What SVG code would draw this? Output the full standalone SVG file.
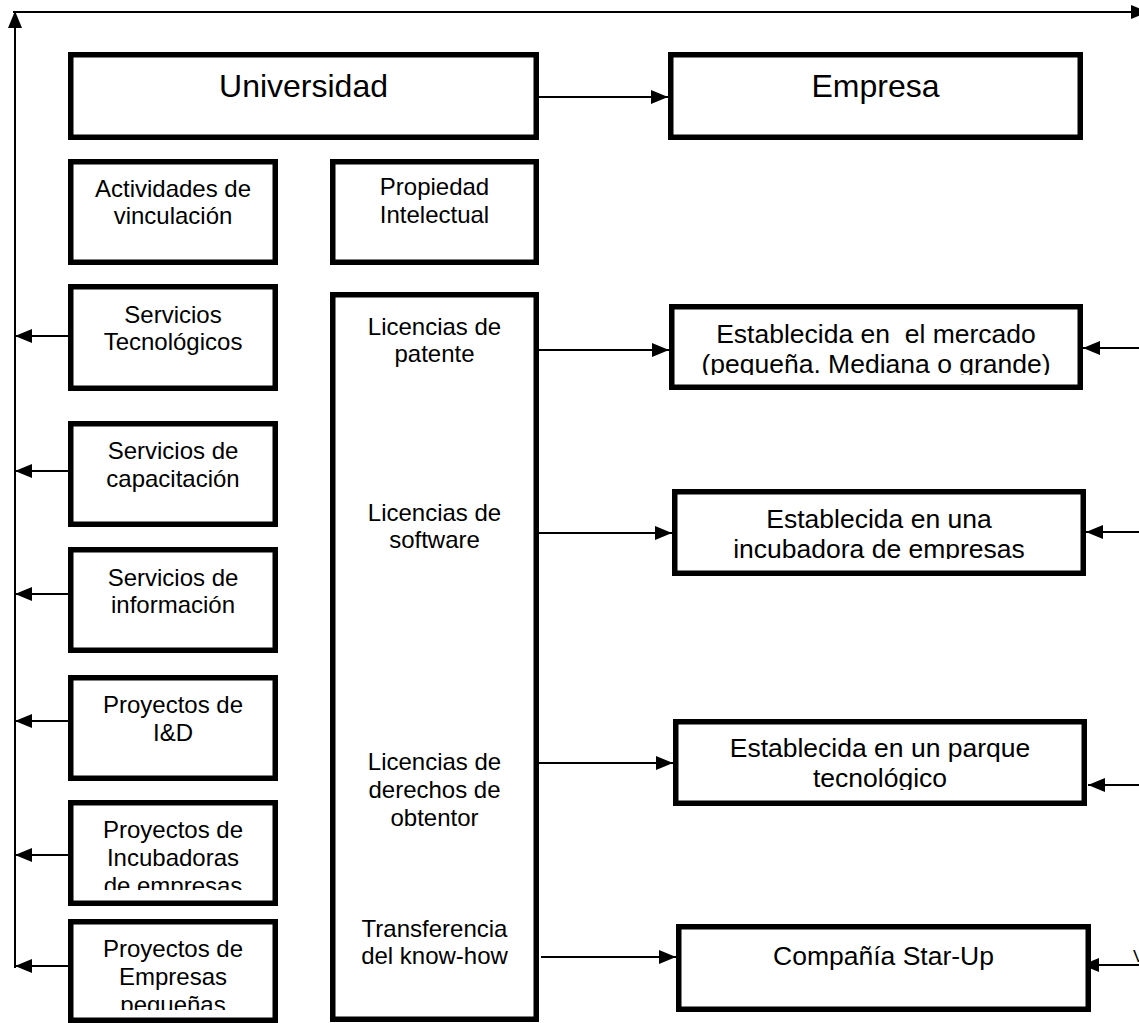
<svg xmlns="http://www.w3.org/2000/svg" width="1139" height="1023" viewBox="0 0 1139 1023">
  <style>
    .box { fill: #fff; stroke: #000; stroke-width: 5.5; }
    .lbl { font-family: "Liberation Sans", Arial, sans-serif; font-size: 24px; fill: #000; text-anchor: middle; }
    .big { font-size: 32px; }
    .mid { font-size: 26.5px; }
    .wire { fill: none; stroke: #000; stroke-width: 2; marker-end: url(#arrow); }
  </style>
  <defs>
    <marker id="arrow" viewBox="0 0 17 14" refX="17" refY="7" markerWidth="17" markerHeight="14" markerUnits="userSpaceOnUse" orient="auto">
      <path d="M0,0 L17,7 L0,14 z" fill="#000"/>
    </marker>
    <clipPath id="clipIncub"><rect x="68" y="800" width="210" height="90"/></clipPath>
    <clipPath id="clipPeq"><rect x="68" y="919" width="210" height="91"/></clipPath>
    <clipPath id="clipMercado"><rect x="669" y="304" width="414" height="71"/></clipPath>
    <clipPath id="clipIncubadora"><rect x="672" y="489" width="414" height="70"/></clipPath>
    <clipPath id="clipParque"><rect x="673" y="719" width="414" height="71"/></clipPath>
  </defs>

  <!-- connectors -->
  <g id="connectors">
    <!-- frame: left riser and top return -->
    <line class="wire" x1="15" y1="968" x2="15" y2="11"/>
    <line class="wire" x1="13" y1="12" x2="1148" y2="12"/>
    <!-- Universidad to Empresa -->
    <line class="wire" x1="539" y1="97" x2="668" y2="97"/>
    <!-- left column outputs -->
    <line class="wire" x1="68" y1="336" x2="15" y2="336"/>
    <line class="wire" x1="68" y1="471" x2="15" y2="471"/>
    <line class="wire" x1="68" y1="594" x2="15" y2="594"/>
    <line class="wire" x1="68" y1="721" x2="15" y2="721"/>
    <line class="wire" x1="68" y1="855" x2="15" y2="855"/>
    <line class="wire" x1="68" y1="966" x2="15" y2="966"/>
    <!-- licences to company types -->
    <line class="wire" x1="539" y1="350" x2="669" y2="350"/>
    <line class="wire" x1="539" y1="533" x2="672" y2="533"/>
    <line class="wire" x1="539" y1="763" x2="673" y2="763"/>
    <line class="wire" x1="541" y1="957" x2="676" y2="957"/>
    <!-- inputs from the right edge -->
    <line class="wire" x1="1145" y1="348" x2="1083" y2="348"/>
    <line class="wire" x1="1145" y1="532" x2="1086" y2="532"/>
    <line class="wire" x1="1145" y1="785" x2="1088" y2="785"/>
    <line class="wire" x1="1145" y1="965" x2="1082" y2="965"/>
  </g>

  <g id="universidad">
    <rect class="box" x="70.75" y="54.75" width="465.5" height="82.5"/>
    <text class="lbl big" x="303.5" y="97">Universidad</text>
  </g>
  <g id="empresa">
    <rect class="box" x="670.75" y="54.75" width="409.5" height="82.5"/>
    <text class="lbl big" x="875.5" y="97">Empresa</text>
  </g>

  <g id="actividades">
    <rect class="box" x="70.75" y="161.75" width="204.5" height="100.5"/>
    <text class="lbl" x="173" y="197">Actividades de</text>
    <text class="lbl" x="173" y="224">vinculación</text>
  </g>
  <g id="servicios-tecnologicos">
    <rect class="box" x="70.75" y="286.75" width="204.5" height="101.5"/>
    <text class="lbl" x="173" y="323">Servicios</text>
    <text class="lbl" x="173" y="350">Tecnológicos</text>
  </g>
  <g id="servicios-capacitacion">
    <rect class="box" x="70.75" y="423.75" width="204.5" height="100.5"/>
    <text class="lbl" x="173" y="459">Servicios de</text>
    <text class="lbl" x="173" y="487">capacitación</text>
  </g>
  <g id="servicios-informacion">
    <rect class="box" x="70.75" y="549.75" width="204.5" height="100.5"/>
    <text class="lbl" x="173" y="586">Servicios de</text>
    <text class="lbl" x="173" y="613">información</text>
  </g>
  <g id="proyectos-id">
    <rect class="box" x="70.75" y="677.75" width="204.5" height="100.5"/>
    <text class="lbl" x="173" y="713">Proyectos de</text>
    <text class="lbl" x="173" y="741">I&amp;D</text>
  </g>
  <g id="proyectos-incubadoras">
    <rect class="box" x="70.75" y="802.75" width="204.5" height="100.5"/>
    <g clip-path="url(#clipIncub)">
      <text class="lbl" x="173" y="838">Proyectos de</text>
      <text class="lbl" x="173" y="866">Incubadoras</text>
      <text class="lbl" x="173" y="894">de empresas</text>
    </g>
  </g>
  <g id="proyectos-empresas">
    <rect class="box" x="70.75" y="921.75" width="204.5" height="98.5"/>
    <g clip-path="url(#clipPeq)">
      <text class="lbl" x="173" y="957">Proyectos de</text>
      <text class="lbl" x="173" y="985">Empresas</text>
      <text class="lbl" x="173" y="1013">pequeñas</text>
    </g>
  </g>

  <g id="propiedad-intelectual">
    <rect class="box" x="332.75" y="161.75" width="203.5" height="100.5"/>
    <text class="lbl" x="434.5" y="195">Propiedad</text>
    <text class="lbl" x="434.5" y="223">Intelectual</text>
  </g>
  <g id="licencias">
    <rect class="box" x="332.75" y="294.75" width="203.5" height="724.5"/>
    <text class="lbl" x="434.5" y="335">Licencias de</text>
    <text class="lbl" x="434.5" y="362">patente</text>
    <text class="lbl" x="434.5" y="521">Licencias de</text>
    <text class="lbl" x="434.5" y="548">software</text>
    <text class="lbl" x="434.5" y="770">Licencias de</text>
    <text class="lbl" x="434.5" y="798">derechos de</text>
    <text class="lbl" x="434.5" y="826">obtentor</text>
    <text class="lbl" x="434.5" y="937">Transferencia</text>
    <text class="lbl" x="434.5" y="964">del know-how</text>
  </g>

  <g id="mercado">
    <rect class="box" x="671.75" y="306.75" width="408.5" height="80.5"/>
    <g clip-path="url(#clipMercado)">
      <text class="lbl mid" x="876" y="343" xml:space="preserve">Establecida en  el mercado</text>
      <text class="lbl mid" x="876" y="373">(pequeña. Mediana o grande)</text>
    </g>
  </g>
  <g id="incubadora">
    <rect class="box" x="674.75" y="491.75" width="408.5" height="81.5"/>
    <g clip-path="url(#clipIncubadora)">
      <text class="lbl mid" x="879" y="528">Establecida en una</text>
      <text class="lbl mid" x="879" y="558">incubadora de empresas</text>
    </g>
  </g>
  <g id="parque">
    <rect class="box" x="675.75" y="721.75" width="408.5" height="81.5"/>
    <g clip-path="url(#clipParque)">
      <text class="lbl mid" x="880" y="757">Establecida en un parque</text>
      <text class="lbl mid" x="880" y="787">tecnológico</text>
    </g>
  </g>
  <g id="startup">
    <rect class="box" x="678.75" y="926.75" width="409.5" height="82.5"/>
    <text class="lbl mid" x="883.5" y="965">Compañía Star-Up</text>
  </g>

  <text class="lbl" x="1133" y="962" style="font-size:17px;text-anchor:start">V</text>
</svg>
